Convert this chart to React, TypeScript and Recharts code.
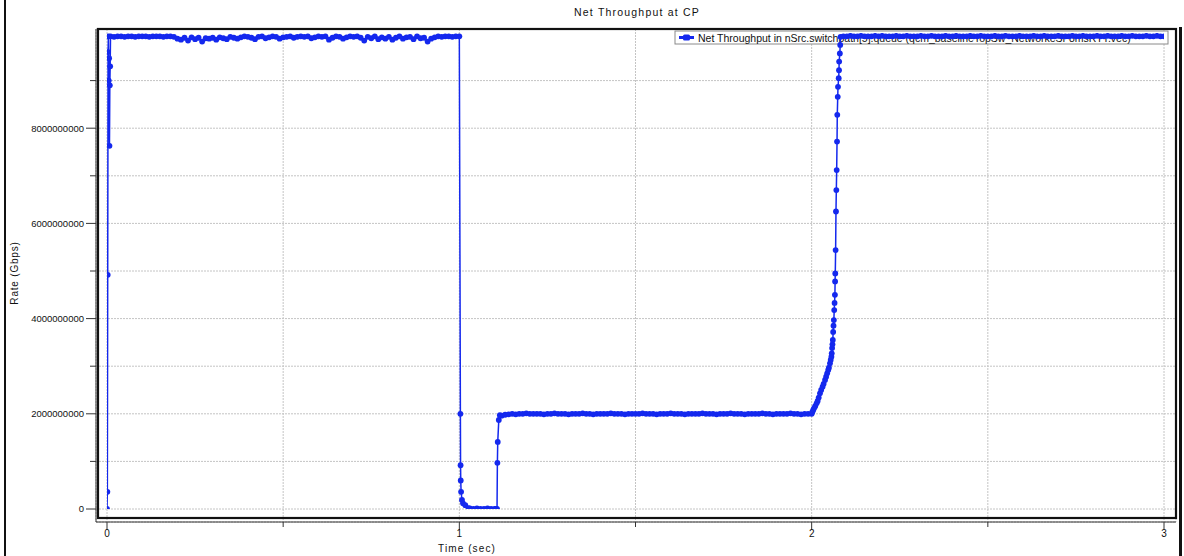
import React from 'react';
import { ComposedChart, Line, XAxis, YAxis, CartesianGrid, Customized } from 'recharts';

// Canvas and plot-area geometry
const W = 1184;
const H = 556;
const PLOT_LEFT = 96;
const PLOT_TOP = 29;
const PLOT_RIGHT = 1176;
const PLOT_BOTTOM = 522;
const FONT = '"Liberation Sans", Arial, Helvetica, sans-serif';
const BLUE = '#1428ee';

// Axis ticks
const xTicks = [0, 0.5, 1, 1.5, 2, 2.5, 3];
const xTickLabels = ['0', '', '1', '', '2', '', '3'];
const yTicks = [0, 1e9, 2e9, 3e9, 4e9, 5e9, 6e9, 7e9, 8e9, 9e9];
const yTickLabels = ['0', '', '2000000000', '', '4000000000', '', '6000000000', '', '8000000000', ''];

// Rates below are in Gb/s; converted to bit/s for the axis.
const GBIT = 1e9;

// Start-up ramp (sec / Gb/s)
const startTimes = [0, 0.001, 0.002, 0.003, 0.004, 0.005, 0.006, 0.007, 0.008, 0.009];
const startRates = [0, 0.36, 4.92, 9.6, 9.93, 9.0, 9.47, 7.63, 8.9, 9.3];

// Full-rate phase, sampled every 10 ms from 0.01 s to 1.00 s
const fullRateA = [
  9.93, 9.92, 9.93, 9.93, 9.92, 9.93, 9.93, 9.92, 9.93, 9.93,
  9.93, 9.92, 9.93, 9.93, 9.93, 9.92, 9.93, 9.93, 9.92, 9.88,
  9.86, 9.9, 9.84, 9.91, 9.87, 9.9, 9.82, 9.89, 9.88, 9.9,
  9.86, 9.91, 9.89, 9.87, 9.92, 9.9, 9.88, 9.91, 9.93, 9.92,
  9.9, 9.87, 9.92, 9.93, 9.89, 9.91, 9.93, 9.92, 9.88, 9.91,
  9.92, 9.93, 9.9, 9.92, 9.93, 9.92, 9.93, 9.89, 9.91, 9.93,
  9.92, 9.93, 9.86, 9.9, 9.93, 9.92, 9.88, 9.91, 9.93, 9.92,
  9.93, 9.9, 9.84, 9.92, 9.89, 9.93, 9.87, 9.91, 9.88, 9.92,
  9.86, 9.9, 9.93, 9.88, 9.91, 9.92, 9.87, 9.93, 9.89, 9.9,
  9.82, 9.88, 9.91, 9.93, 9.92, 9.93, 9.93, 9.92, 9.93, 9.93,
];

// Congestion drop at 1 s
const dropTimes = [1.003, 1.0035, 1.004, 1.005, 1.0075, 1.0105, 1.017, 1.026];
const dropRates = [2.0, 0.92, 0.6, 0.36, 0.19, 0.12, 0.08, 0.02];

// Paused phase, every 10 ms from 1.03 s
const pausedRates = [0.01, 0.0, 0.01, 0.0, 0.0, 0.01, 0.0, 0.0];

// Recovery to the reduced rate
const recoverTimes = [1.104, 1.107, 1.108, 1.109, 1.112, 1.115];
const recoverRates = [0.0, 0.0, 0.97, 1.41, 1.87, 1.97];

// Reduced-rate phase, every 10 ms from 1.12 s to 1.99 s
const reducedRates = [
  1.96, 1.98, 1.99, 2.0, 1.99, 2.0, 2.0, 2.01, 2.0, 2.0,
  2.0, 2.0, 1.99, 2.0, 2.0, 2.01, 2.0, 2.0, 2.0, 1.99,
  2.0, 2.0, 2.0, 2.01, 2.0, 2.0, 1.99, 2.0, 2.0, 2.0,
  2.0, 2.01, 2.0, 2.0, 2.0, 1.99, 2.0, 2.0, 2.0, 2.0,
  2.01, 2.0, 2.0, 2.0, 1.99, 2.0, 2.0, 2.0, 2.01, 2.0,
  2.0, 2.0, 1.99, 2.0, 2.0, 2.0, 2.0, 2.01, 2.0, 2.0,
  2.0, 1.99, 2.0, 2.0, 2.0, 2.01, 2.0, 2.0, 2.0, 1.99,
  2.0, 2.0, 2.0, 2.0, 2.01, 2.0, 2.0, 1.99, 2.0, 2.0,
  2.0, 2.0, 2.01, 2.0, 2.0, 1.99, 2.0, 2.0,
];

// Rate increase after 2 s
const rampTimes = [
  2.0, 2.002, 2.0045, 2.007, 2.01, 2.014, 2.017, 2.02, 2.0236, 2.027,
  2.031, 2.034, 2.038, 2.041, 2.044, 2.047, 2.049, 2.052, 2.054, 2.056,
  2.057, 2.058, 2.059, 2.06, 2.061, 2.062, 2.063, 2.064, 2.065, 2.066,
  2.0665, 2.067, 2.068, 2.069, 2.07, 2.071, 2.072, 2.0727, 2.074, 2.0747,
  2.0767, 2.0776, 2.078, 2.08, 2.081, 2.082,
];
const rampRates = [
  2.0, 2.04, 2.08, 2.12, 2.16, 2.22, 2.27, 2.34, 2.43, 2.5,
  2.57, 2.63, 2.71, 2.78, 2.85, 2.92, 2.97, 3.06, 3.13, 3.2,
  3.27, 3.38, 3.46, 3.55, 3.72, 3.85, 3.97, 4.18, 4.33, 4.5,
  4.78, 4.95, 5.44, 6.25, 6.7, 7.12, 7.72, 8.28, 8.66, 8.87,
  9.05, 9.22, 9.4, 9.57, 9.75, 9.92,
];

// Full-rate phase, every 10 ms from 2.09 s to 3.00 s
const fullRateB = [
  9.93, 9.93, 9.94, 9.93, 9.93, 9.94, 9.93, 9.93, 9.93, 9.94,
  9.93, 9.94, 9.93, 9.93, 9.93, 9.94, 9.93, 9.93, 9.94, 9.93,
  9.93, 9.93, 9.94, 9.93, 9.93, 9.94, 9.93, 9.93, 9.93, 9.94,
  9.93, 9.93, 9.94, 9.93, 9.93, 9.93, 9.94, 9.93, 9.93, 9.94,
  9.93, 9.93, 9.93, 9.94, 9.93, 9.93, 9.94, 9.93, 9.93, 9.93,
  9.94, 9.93, 9.93, 9.93, 9.94, 9.93, 9.93, 9.94, 9.93, 9.93,
  9.93, 9.94, 9.93, 9.93, 9.93, 9.94, 9.93, 9.93, 9.94, 9.93,
  9.93, 9.93, 9.94, 9.93, 9.93, 9.94, 9.93, 9.93, 9.93, 9.94,
  9.93, 9.93, 9.94, 9.93, 9.93, 9.93, 9.94, 9.93, 9.93, 9.94,
  9.93, 9.93,
];

type Pt = { t: number; rate: number };

const paired = (times: number[], rates: number[]): Pt[] =>
  times.map((t, i) => ({ t, rate: rates[i] * GBIT }));

const sampled = (start: number, step: number, rates: number[]): Pt[] =>
  rates.map((r, i) => ({ t: +(start + i * step).toFixed(4), rate: r * GBIT }));

const data: Pt[] = [
  ...paired(startTimes, startRates),
  ...sampled(0.01, 0.01, fullRateA),
  ...paired(dropTimes, dropRates),
  ...sampled(1.03, 0.01, pausedRates),
  ...paired(recoverTimes, recoverRates),
  ...sampled(1.12, 0.01, reducedRates),
  ...paired(rampTimes, rampRates),
  ...sampled(2.09, 0.01, fullRateB),
];

const TITLE = 'Net Throughput at CP';
const SERIES_NAME = 'Net Throughput in nSrc.switchpath[5].queue (qcm_baselineTopSw_NetworkeSF8msRTT.vec)';

const YTick = (props: any) => {
  const { x, y, payload } = props;
  const idx = yTicks.indexOf(payload.value);
  const label = idx >= 0 ? yTickLabels[idx] : '';
  const major = label !== '';
  return (
    <g>
      <line x1={x - (major ? 10 : 6)} x2={x} y1={y} y2={y} stroke="#333" strokeWidth={1} />
      {major && (
        <text x={x - 12} y={y} dy="0.35em" textAnchor="end" fontSize={9.5} fill="#111" fontFamily={FONT}>
          {label}
        </text>
      )}
    </g>
  );
};

const XTick = (props: any) => {
  const { x, y, payload } = props;
  const idx = xTicks.indexOf(payload.value);
  const label = idx >= 0 ? xTickLabels[idx] : '';
  const major = label !== '';
  return (
    <g>
      <line x1={x} x2={x} y1={y} y2={y + (major ? 8 : 5)} stroke="#333" strokeWidth={1} />
      {major && (
        <text x={x} y={y + 15} textAnchor="middle" fontSize={10} fill="#111" fontFamily={FONT}>
          {label}
        </text>
      )}
    </g>
  );
};

// Plot frame, title, axis captions and the inset legend, drawn beneath the series
const Decorations = () => {
  const lx = 675;
  const ly = 31;
  return (
    <g>
      <rect
        x={PLOT_LEFT + 2}
        y={PLOT_TOP}
        width={PLOT_RIGHT - PLOT_LEFT - 2}
        height={PLOT_BOTTOM - PLOT_TOP - 4}
        fill="none"
        stroke="#111"
        strokeWidth={2.2}
      />
      <text x={637} y={16} textAnchor="middle" fontSize={10.5} letterSpacing={1.2} fill="#111" fontFamily={FONT}>
        {TITLE}
      </text>
      <text
        x={18}
        y={273}
        transform="rotate(-90, 18, 273)"
        textAnchor="middle"
        fontSize={10}
        letterSpacing={0.8}
        fill="#111"
        fontFamily={FONT}
      >
        Rate (Gbps)
      </text>
      <text x={467} y={552} textAnchor="middle" fontSize={10} letterSpacing={1.1} fill="#111" fontFamily={FONT}>
        Time (sec)
      </text>
      <rect x={lx} y={ly} width={493} height={13} fill="#fff" stroke="#8a8a8a" strokeWidth={1} />
      <line x1={lx + 4} x2={lx + 19} y1={ly + 6.5} y2={ly + 6.5} stroke={BLUE} strokeWidth={3} />
      <rect x={lx + 8} y={ly + 3.5} width={7} height={6} rx={1.5} fill={BLUE} />
      <text x={lx + 23} y={ly + 10.5} fontSize={10.5} fill="#111" fontFamily={FONT}>
        {SERIES_NAME}
      </text>
    </g>
  );
};

export default function App() {
  return (
    <div style={{ position: 'absolute', left: 0, top: 0, width: W, height: H, background: '#fff' }}>
      <div style={{ position: 'absolute', left: 4, top: 0, width: 2, height: H, background: '#111' }} />
      <div style={{ position: 'absolute', left: 1179, top: 27, width: 3, height: H - 27, background: '#111' }} />
      <ComposedChart
        width={W}
        height={H}
        data={data}
        margin={{ top: PLOT_TOP, right: W - PLOT_RIGHT, left: 0, bottom: 0 }}
      >
        <CartesianGrid stroke="#c4c4c4" strokeDasharray="2 1" />
        <XAxis
          dataKey="t"
          type="number"
          domain={[0, 3]}
          ticks={xTicks}
          interval={0}
          height={H - PLOT_BOTTOM}
          padding={{ left: 11, right: 12 }}
          axisLine={{ stroke: '#333' }}
          tickLine={false}
          tickSize={0}
          tickMargin={0}
          tick={<XTick />}
          allowDataOverflow
        />
        <YAxis
          type="number"
          domain={[0, 1e10]}
          ticks={yTicks}
          interval={0}
          width={PLOT_LEFT}
          padding={{ top: 4, bottom: 13 }}
          axisLine={{ stroke: '#333' }}
          tickLine={false}
          tickSize={0}
          tickMargin={0}
          tick={<YTick />}
          allowDataOverflow
        />
        <Customized component={Decorations} />
        <Line
          dataKey="rate"
          type="linear"
          stroke={BLUE}
          strokeWidth={1.5}
          dot={{ r: 2.9, fill: BLUE, stroke: 'none' }}
          activeDot={false}
          isAnimationActive={false}
        />
      </ComposedChart>
    </div>
  );
}
